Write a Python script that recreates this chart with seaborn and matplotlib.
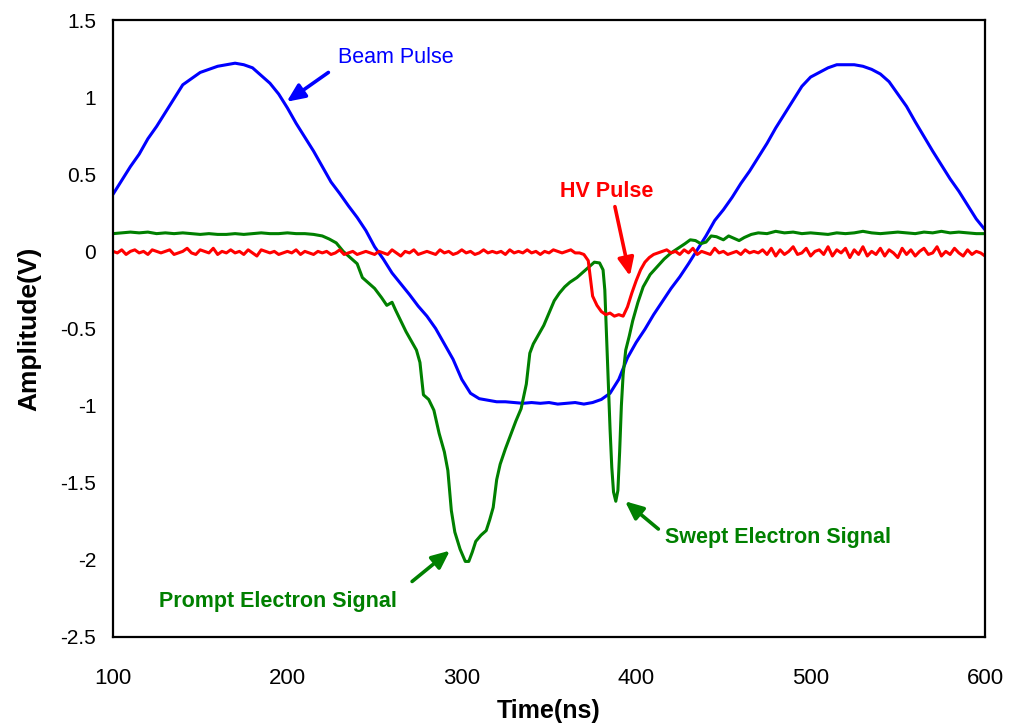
import numpy as np
import pandas as pd
import matplotlib
matplotlib.use("Agg")
import matplotlib.pyplot as plt
import seaborn as sns

# ---------------- data ----------------
beam_t = [100, 105, 110, 115, 120, 125, 130, 135, 140, 145, 150, 155, 160, 165, 170,
          175, 180, 185, 190, 195, 200, 205, 210, 215, 220, 225, 230, 235, 240, 245,
          250, 255, 260, 265, 270, 275, 280, 285, 290, 295, 300, 305, 310, 315, 320,
          325, 330, 335, 340, 345, 350, 355, 360, 365, 370, 375, 380, 385, 390, 395,
          400, 405, 410, 415, 420, 425, 430, 435, 440, 445, 450, 455, 460, 465, 470,
          475, 480, 485, 490, 495, 500, 505, 510, 515, 520, 525, 530, 535, 540, 545,
          550, 555, 560, 565, 570, 575, 580, 585, 590, 595, 600]
beam_v = [0.37, 0.46, 0.55, 0.63, 0.73, 0.81, 0.90, 0.99, 1.08, 1.12, 1.16, 1.18, 1.20, 1.21, 1.22,
          1.21, 1.19, 1.14, 1.09, 1.02, 0.93, 0.83, 0.74, 0.65, 0.55, 0.45, 0.375, 0.295, 0.22, 0.135,
          0.03, -0.05, -0.14, -0.21, -0.28, -0.355, -0.42, -0.50, -0.60, -0.70, -0.83, -0.92, -0.955, -0.965, -0.975,
          -0.975, -0.98, -0.985, -0.98, -0.985, -0.98, -0.99, -0.985, -0.98, -0.99, -0.98, -0.96, -0.92, -0.83, -0.69,
          -0.59, -0.505, -0.41, -0.325, -0.24, -0.165, -0.08, 0.01, 0.10, 0.20, 0.27, 0.35, 0.44, 0.52, 0.61,
          0.70, 0.80, 0.89, 0.98, 1.07, 1.13, 1.16, 1.19, 1.21, 1.21, 1.21, 1.20, 1.18, 1.15, 1.10,
          1.02, 0.94, 0.84, 0.745, 0.65, 0.56, 0.47, 0.39, 0.30, 0.21, 0.14]

elec_t = [100, 105, 110, 115, 120, 125, 130, 135, 140, 145, 150, 155, 160, 165, 170, 175, 180,
          185, 190, 195, 200, 205, 210, 215, 220, 224, 228, 232, 236, 240, 243, 246, 250, 254,
          257, 260, 262, 265, 268, 271, 274, 276, 278, 281, 284, 287, 290, 292, 294, 296, 299,
          302, 304, 306, 308, 311, 314, 316, 318, 320, 322, 325, 328, 331, 334, 337, 339, 341,
          344, 347, 350, 353, 356, 359, 362, 366, 370, 373, 376, 379, 381, 382, 383, 384, 385,
          386, 387, 388.3, 389.5, 390.5, 391.5, 392.5, 394, 396, 398, 401, 404, 408, 412, 416,
          420, 424, 428, 431, 434, 437, 440, 443, 446, 450, 453, 456, 459, 462, 466, 470, 475,
          480, 485, 490, 495, 500, 505, 510, 515, 520, 525, 530, 535, 540, 545, 550, 555, 560,
          565, 570, 575, 580, 585, 590, 595, 600]
elec_v = [0.115, 0.12, 0.125, 0.12, 0.125, 0.115, 0.12, 0.115, 0.12, 0.115, 0.11, 0.115, 0.11, 0.11, 0.115, 0.11, 0.115,
          0.12, 0.115, 0.115, 0.12, 0.115, 0.115, 0.11, 0.10, 0.08, 0.055, 0.0, -0.04, -0.08, -0.17, -0.20, -0.24, -0.30,
          -0.35, -0.33, -0.38, -0.45, -0.52, -0.58, -0.64, -0.72, -0.93, -0.96, -1.03, -1.18, -1.30, -1.42, -1.68, -1.82, -1.93,
          -2.01, -2.01, -1.95, -1.88, -1.84, -1.81, -1.74, -1.66, -1.48, -1.38, -1.28, -1.19, -1.10, -1.02, -0.86, -0.66, -0.60,
          -0.54, -0.48, -0.40, -0.32, -0.27, -0.23, -0.20, -0.17, -0.13, -0.10, -0.07, -0.075, -0.12, -0.25, -0.55, -0.85, -1.15,
          -1.40, -1.56, -1.62, -1.55, -1.30, -1.00, -0.80, -0.64, -0.55, -0.45, -0.33, -0.23, -0.15, -0.10, -0.05,
          -0.01, 0.02, 0.05, 0.075, 0.07, 0.05, 0.06, 0.10, 0.095, 0.075, 0.10, 0.085, 0.07, 0.09, 0.11, 0.12, 0.115,
          0.13, 0.12, 0.125, 0.115, 0.12, 0.115, 0.11, 0.12, 0.115, 0.12, 0.13, 0.12, 0.115, 0.12, 0.125, 0.12, 0.115,
          0.125, 0.12, 0.13, 0.12, 0.125, 0.12, 0.115, 0.115]

hv_v = [0.00, -0.01, 0.01, -0.02, 0.00, 0.01, -0.01, 0.00, -0.02, 0.01,
        0.00, -0.01, 0.00, 0.01, -0.02, -0.01, 0.00, 0.02, -0.01, -0.02,
        0.01, 0.00, -0.01, 0.02, -0.02, 0.00, -0.01, 0.01, -0.01, 0.00,
        -0.02, 0.01, -0.01, -0.03, 0.01, 0.00, -0.01, 0.00, -0.02, -0.01,
        0.00, -0.01, 0.01, -0.02, 0.00, -0.01, -0.02, 0.00, -0.01, 0.00,
        -0.02, -0.01, 0.01, -0.02, -0.01, 0.00, -0.02, -0.01, 0.00, -0.01,
        -0.02, 0.00, -0.01, -0.02, 0.01, -0.01, -0.03, 0.00, -0.01, 0.01,
        -0.02, -0.01, 0.00, -0.01, -0.02, 0.01, -0.01, 0.00, -0.02, -0.01,
        0.01, -0.01, 0.00, -0.02, -0.01, 0.01, -0.01, 0.00, -0.01, 0.00,
        -0.02, 0.01, -0.01, 0.00, -0.01, 0.01, -0.01, 0.00, -0.02, 0.00,
        -0.01, 0.01, 0.00, -0.01, 0.00, 0.01, -0.01, -0.01,
        -0.02, -0.06, -0.29, -0.35, -0.39, -0.41, -0.40, -0.42, -0.41, -0.42,
        -0.36, -0.27, -0.19, -0.12, -0.07, -0.04, -0.02, -0.01, 0.00,
        0.01, -0.01, 0.00, -0.02, 0.01, -0.01, 0.02, -0.02, 0.00, -0.01,
        -0.02, 0.02, -0.01, 0.00, -0.02, -0.01, 0.00, -0.02, 0.01, -0.01,
        0.00, -0.01, 0.01, -0.02, 0.02, -0.03, 0.01, -0.02, 0.00, 0.03,
        -0.02, -0.01, 0.02, -0.03, 0.00, 0.01, -0.02, 0.03, -0.03, 0.01,
        -0.01, 0.02, -0.04, 0.01, -0.02, 0.03, -0.03, 0.00, -0.02, 0.02,
        -0.03, 0.01, -0.01, -0.04, 0.02, -0.02, 0.01, -0.03, 0.00, 0.02,
        -0.02, -0.01, 0.03, -0.03, 0.00, -0.02, 0.02, -0.01, -0.03, 0.01,
        -0.02, 0.00, -0.01, -0.03]
hv_t = list(np.linspace(100, 600, len(hv_v)))

x_ticks = [100, 200, 300, 400, 500, 600]
y_ticks = [-2.5, -2, -1.5, -1, -0.5, 0, 0.5, 1, 1.5]

BLUE, RED, GREEN = "#0000FF", "#FF0000", "#008000"

# ---------------- plot ----------------
sns.set_theme(style="white")
plt.rcParams["font.family"] = ["Liberation Sans", "DejaVu Sans"]

fig = plt.figure(figsize=(10.13, 7.28), dpi=100)
ax = fig.add_axes([113 / 1013, 1 - 637 / 728, (985 - 113) / 1013, (637 - 20) / 728])

sns.lineplot(x=beam_t, y=beam_v, ax=ax, color=BLUE, linewidth=2.2, sort=False, estimator=None)
sns.lineplot(x=elec_t, y=elec_v, ax=ax, color=GREEN, linewidth=2.2, sort=False, estimator=None)
sns.lineplot(x=hv_t, y=hv_v, ax=ax, color=RED, linewidth=2.2, sort=False, estimator=None)

ax.set_xlim(100, 600)
ax.set_ylim(-2.5, 1.5)
ax.set_xticks(x_ticks)
ax.set_xticklabels([f"{v:g}" for v in x_ticks], fontsize=16, color="black")
ax.set_yticks(y_ticks)
ax.set_yticklabels([f"{v:g}" for v in y_ticks], fontsize=15, color="black")
ax.tick_params(axis="both", direction="out", length=5, width=1, color="#555555")
ax.tick_params(axis="x", pad=17)
ax.tick_params(axis="y", pad=7)
for s in ax.spines.values():
    s.set_color("black")
    s.set_linewidth(1.6)

ax.set_xlabel("Time(ns)", fontsize=18, fontweight="bold", color="black")
ax.set_ylabel("Amplitude(V)", fontsize=19, fontweight="bold", labelpad=14, color="black")
ax.xaxis.set_label_coords(0.5, -0.100)

ap = dict(arrowstyle="-|>,head_length=0.9,head_width=0.4", lw=2.6, shrinkA=0, shrinkB=0)

ax.text(262.3, 1.26, "Beam Pulse", color=BLUE, fontsize=15.5, ha="center", va="center")
ax.annotate("", xy=(199.6, 0.97), xytext=(223.5, 1.16), arrowprops=dict(ap, color=BLUE))

ax.text(383.3, 0.385, "HV Pulse", color=RED, fontsize=15.5, fontweight="bold", ha="center", va="center")
ax.annotate("", xy=(396.4, -0.16), xytext=(387.8, 0.29), arrowprops=dict(ap, color=RED))

ax.text(481.3, -1.852, "Swept Electron Signal", color=GREEN, fontsize=15.5, fontweight="bold",
        ha="center", va="center")
ax.annotate("", xy=(393.6, -1.62), xytext=(412.7, -1.80), arrowprops=dict(ap, color=GREEN))

ax.text(194.6, -2.267, "Prompt Electron Signal", color=GREEN, fontsize=15.5, fontweight="bold",
        ha="center", va="center")
ax.annotate("", xy=(293.2, -1.94), xytext=(271.5, -2.14), arrowprops=dict(ap, color=GREEN))

fig.savefig("out.png", dpi=100)
